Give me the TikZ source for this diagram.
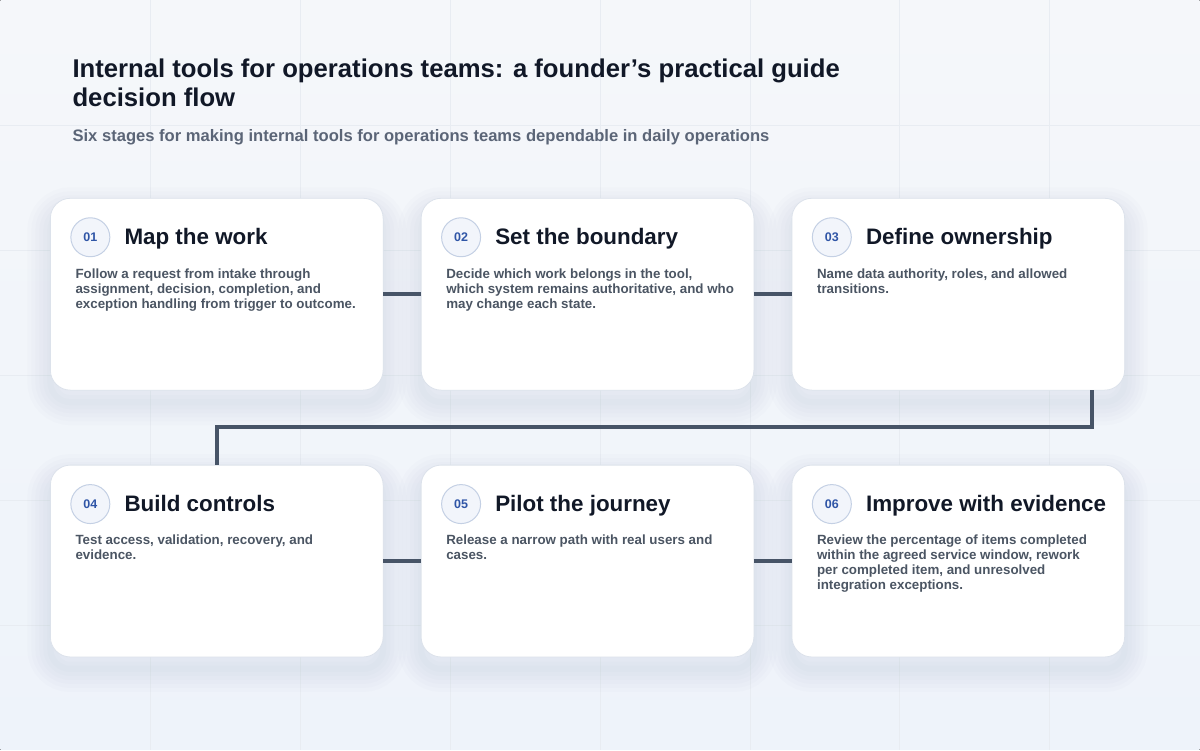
\documentclass[tikz,border=0pt]{standalone}
\usepackage{fontspec}
\setmainfont{Liberation Sans}
\usetikzlibrary{positioning}
\definecolor{pagetop}{HTML}{F5F7FA}
\definecolor{pagebottom}{HTML}{EEF3FA}
\definecolor{gridline}{HTML}{E8ECF2}
\definecolor{cardline}{HTML}{DCE2EB}
\definecolor{shadowink}{HTML}{5A6B8C}
\definecolor{badgefill}{HTML}{F2F5FB}
\definecolor{badgeline}{HTML}{C4D0E4}
\definecolor{badgeink}{HTML}{2F55A6}
\definecolor{ink}{HTML}{111827}
\definecolor{bodyink}{HTML}{4B5563}
\definecolor{subink}{HTML}{5B6577}
\definecolor{linkink}{HTML}{475467}

\begin{document}
\begin{tikzpicture}[x=1pt, y=-1pt, node distance=75pt and 38pt,
    softshadow/.style = {preaction={draw=shadowink, opacity=0.014,
        line width=#1, transform canvas={yshift=-12pt}}},
    card/.style = {draw=cardline, fill=white, line width=0.8pt, outer sep=0pt,
      rounded corners=20pt, minimum width=333pt, minimum height=192pt,
      softshadow=46pt, softshadow=38pt, softshadow=30pt, softshadow=22pt,
      softshadow=14pt, softshadow=6pt},
    badge/.style = {circle, draw=badgeline, fill=badgefill, line width=1pt,
      minimum size=39pt, inner sep=0pt, text=badgeink,
      font=\fontsize{12.5}{12.5}\selectfont\bfseries},
    stagetitle/.style = {anchor=base west, inner sep=0pt, text=ink,
      font=\fontsize{22.4}{26}\selectfont\bfseries},
    stagetext/.style = {anchor=north west, inner sep=0pt, align=left,
      text=bodyink, font=\fontsize{13.35}{15}\selectfont\bfseries},
    link/.style = {draw=linkink, line width=4pt}]
  \fill[top color=pagetop, bottom color=pagebottom] (0,0) rectangle (1200,750);
  \foreach \x in {150,300,...,1050}
    \draw[gridline, line width=0.8pt] (\x,0) -- (\x,750);
  \foreach \y in {125,250,...,625}
    \draw[gridline, line width=0.8pt] (0,\y) -- (1200,\y);

  \node[anchor=north west, inner sep=0pt, align=left, text=ink,
    font=\fontsize{25.7}{29.5}\selectfont\bfseries] (title) at (72,58)
    {Internal tools for operations teams: a founder’s practical guide\\decision flow};
  \node[anchor=base west, inner sep=0pt, text=subink,
    font=\fontsize{16.6}{19}\selectfont\bfseries] (subtitle) at (72,141)
    {Six stages for making internal tools for operations teams dependable in daily operations};

  \node[card, anchor=north west] (c1) at (50,198) {};
  \node[card, right=of c1] (c2) {};
  \node[card, right=of c2] (c3) {};
  \node[card, below=of c1] (c4) {};
  \node[card, right=of c4] (c5) {};
  \node[card, right=of c5] (c6) {};

  \foreach \c/\n/\t/\b in {
      c1/01/{Map the work}/{Follow a request from intake through\\assignment, decision, completion, and\\exception handling from trigger to outcome.},
      c2/02/{Set the boundary}/{Decide which work belongs in the tool,\\which system remains authoritative, and who\\may change each state.},
      c3/03/{Define ownership}/{Name data authority, roles, and allowed\\transitions.},
      c4/04/{Build controls}/{Test access, validation, recovery, and\\evidence.},
      c5/05/{Pilot the journey}/{Release a narrow path with real users and\\cases.},
      c6/06/{Improve with evidence}/{Review the percentage of items completed\\within the agreed service window, rework\\per completed item, and unresolved\\integration exceptions.}} {
    \node[badge] (b-\c) at ([shift={(40,39)}]\c.north west) {\n};
    \node[stagetitle] (t-\c) at ([shift={(74,46)}]\c.north west) {\t};
    \node[stagetext] (d-\c) at ([shift={(25,70)}]\c.north west) {\b};
  }

  \draw[link] (c1.east) -- (c2.west);
  \draw[link] (c2.east) -- (c3.west);
  \draw[link] ([xshift=-33pt]c3.south east) -- ++(0,37) -| (c4.north);
  \draw[link] (c4.east) -- (c5.west);
  \draw[link] (c5.east) -- (c6.west);
\end{tikzpicture}
\end{document}
